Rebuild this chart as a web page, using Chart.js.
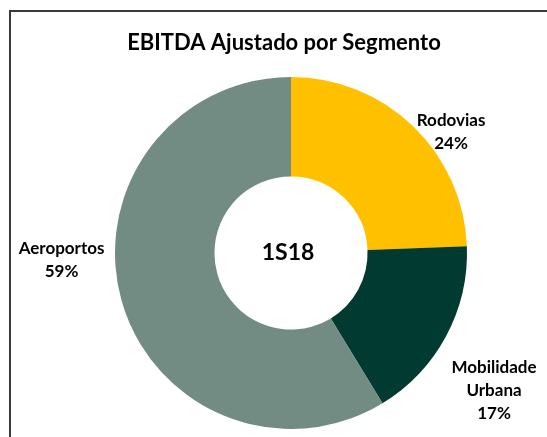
<!DOCTYPE html>
<html>
<head>
<meta charset="utf-8">
<script src="https://cdn.jsdelivr.net/npm/chart.js@4"></script>
<style>
  html, body { margin: 0; padding: 0; background: #fff; overflow: hidden; }
  #wrap { position: relative; width: 547px; height: 437px; }
  #frame { position: absolute; left: 9px; top: 10px; width: 600px; height: 500px; border: 2px solid #3a3a3a; box-sizing: border-box; }
  canvas { position: absolute; left: 0; top: 0; }
</style>
</head>
<body>
<div id="wrap">
  <div id="frame"></div>
  <canvas id="chart" width="547" height="437"></canvas>
</div>
<script>
const titleText = 'EBITDA Ajustado por Segmento'
const centerText = '1S18'
const segments = [['Rodovias'], ['Mobilidade', 'Urbana'], ['Aeroportos']]
const shares = [24.4, 16.9, 58.7]
const colors = ['#FFC000', '#003A30', '#728B83']

// deslocamento do rótulo a partir do ponto externo do arco (meio da fatia)
const labelOffsets = [[38, 6], [48, 54], [-60, -40]]

const FONT = 'Lato, "DejaVu Sans", sans-serif'

const textPlugin = {
    id: 'textPlugin',
    afterDraw: chart => {
        const ctx = chart.ctx
        const meta = chart.getDatasetMeta(0)
        const arc0 = meta.data[0]
        const cx = arc0.x, cy = arc0.y

        ctx.save()
        ctx.fillStyle = '#000'
        ctx.textAlign = 'center'
        ctx.textBaseline = 'middle'

        // titulo
        ctx.font = 'bold 22px ' + FONT
        ctx.fillText(titleText, 284, 43)

        // centro
        ctx.font = 'bold 23px ' + FONT
        ctx.fillText(centerText, cx - 3, cy)

        // rotulos
        ctx.font = 'bold 17px ' + FONT
        const lineH = 23
        meta.data.forEach((arc, i) => {
            const mid = (arc.startAngle + arc.endAngle) / 2
            const px = cx + arc.outerRadius * Math.cos(mid)
            const py = cy + arc.outerRadius * Math.sin(mid)
            const lines = [...segments[i], Math.round(shares[i]) + '%']
            const lx = px + labelOffsets[i][0]
            const ly = py + labelOffsets[i][1]
            const top = ly - (lines.length - 1) * lineH / 2
            lines.forEach((t, j) => ctx.fillText(t, lx, top + j * lineH))
        })
        ctx.restore()
    }
}

new Chart(document.getElementById('chart'), {
    type: 'doughnut',
    data: {
        labels: segments.map(s => s.join(' ')),
        datasets: [{
            data: shares,
            backgroundColor: colors,
            borderWidth: 0
        }]
    },
    options: {
        responsive: false,
        animation: false,
        cutout: '43.5%',
        layout: { padding: { left: 115, right: 80, top: 77, bottom: 8 } },
        plugins: {
            legend: { display: false },
            tooltip: { enabled: false },
            title: { display: false }
        }
    },
    plugins: [textPlugin]
})
</script>
</body>
</html>
